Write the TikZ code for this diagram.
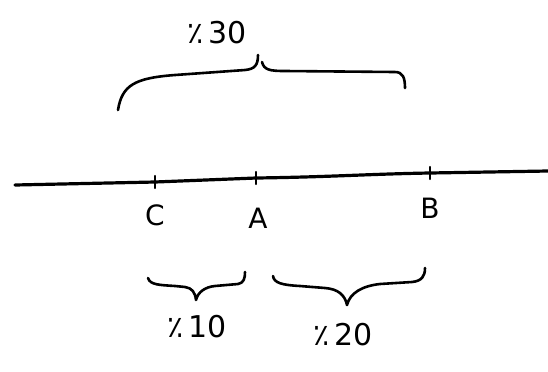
\documentclass[tikz,border=0pt]{standalone}
\usepackage{fontspec}
\setmainfont{DejaVu Sans}
\usetikzlibrary{positioning}
\tikzset{
  axis line/.style={line width=1.6pt, line cap=round},
  tick line/.style={line width=1.2pt, line cap=round},
  brace line/.style={line width=1.3pt, line cap=round, line join=round},
  point label/.style={font=\fontsize{14}{16}\selectfont},
  percent label/.style={font=\fontsize{15}{17}\selectfont},
}

\begin{document}
\begin{tikzpicture}[x=0.5pt,y=-0.5pt]
  \useasboundingbox (0,0) rectangle (548,371);
  % number line
  \coordinate (left) at (15,185);
  \coordinate (C) at (155,182);
  \coordinate (A) at (256,178);
  \coordinate (B) at (430,173);
  \coordinate (right) at (548,171);
  \draw[axis line] (left) -- (C) -- (A) .. controls (330,177) and (370,174) .. (B) -- (right);
  \foreach \p in {C,A,B}
    \draw[tick line] ([yshift=3pt]\p) -- ([yshift=-3pt]\p);
  \node[point label] (lblC) at (155,215) {C};
  \node[point label] (lblA) at (258,218) {A};
  \node[point label] (lblB) at (430,208) {B};
  % top brace (C to B)
  \draw[brace line] (118,110) .. controls (122,85) and (135,78) .. (175,75)
    -- (245,70) .. controls (255,69) and (258,65) .. (258,55);
  \draw[brace line] (262,62) .. controls (264,70) and (270,71) .. (285,71)
    -- (395,72) .. controls (403,72) and (405,78) .. (405,88);
  \node[percent label] (pct30) at (217,33) {٪\,30};
  % bottom braces
  \draw[brace line] (148,278) .. controls (150,285) and (160,285) .. (175,286)
    -- (185,287) .. controls (192,288) and (195,292) .. (196,300)
    .. controls (198,292) and (205,287) .. (215,286)
    -- (238,284) .. controls (244,283) and (245,278) .. (245,272);
  \draw[brace line] (273,276) .. controls (274,283) and (282,285) .. (300,286)
    -- (325,288) .. controls (338,289) and (345,295) .. (347,305)
    .. controls (350,293) and (362,286) .. (380,284)
    -- (412,282) .. controls (422,281) and (425,276) .. (425,268);
  \node[percent label] (pct10) at (197,327) {٪\,10};
  \node[percent label] (pct20) at (343,335) {٪\,20};
\end{tikzpicture}
\end{document}
